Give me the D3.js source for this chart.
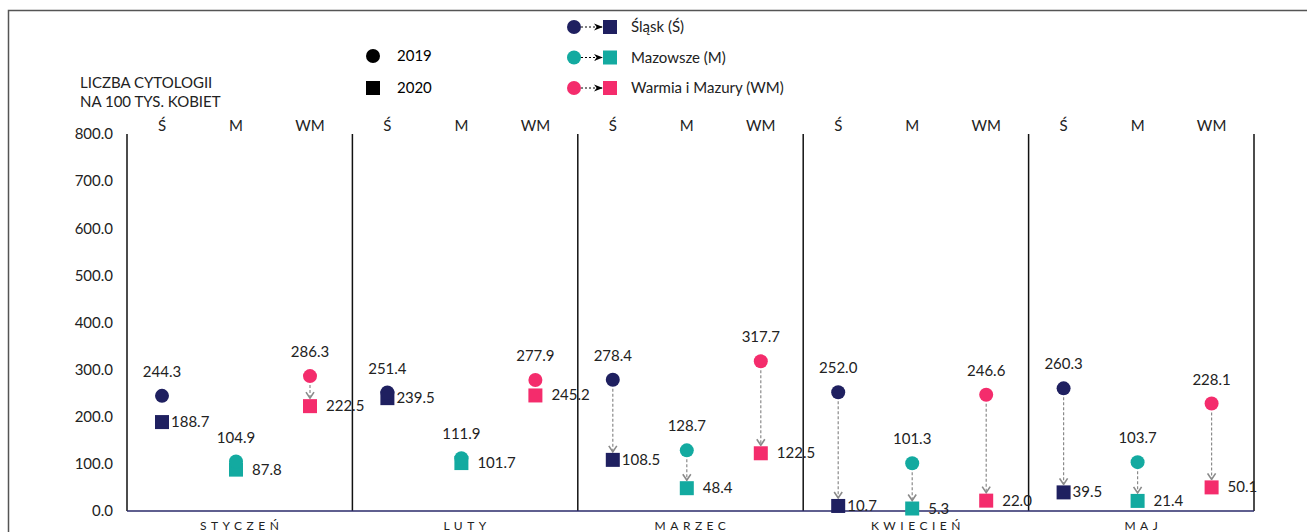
<!DOCTYPE html>
<html>
<head>
<meta charset="utf-8">
<script src="https://cdn.jsdelivr.net/npm/d3@7"></script>
<style>
  body { margin: 0; background: #fff; }
  svg { display: block; font-family: Lato, "Open Sans", sans-serif; }
</style>
</head>
<body>
<svg id="chart" width="1307" height="532"></svg>
<script>
// data
const months = ['STYCZEŃ', 'LUTY', 'MARZEC', 'KWIECIEŃ', 'MAJ'];
const regions = ['Ś', 'M', 'WM'];
const regionNames = ['Śląsk (Ś)', 'Mazowsze (M)', 'Warmia i Mazury (WM)'];
const values2019 = {
  'Ś':  [244.3, 251.4, 278.4, 252.0, 260.3],
  'M':  [104.9, 111.9, 128.7, 101.3, 103.7],
  'WM': [286.3, 277.9, 317.7, 246.6, 228.1]
};
const values2020 = {
  'Ś':  [188.7, 239.5, 108.5, 10.7, 39.5],
  'M':  [87.8, 101.7, 48.4, 5.3, 21.4],
  'WM': [222.5, 245.2, 122.5, 22.0, 50.1]
};
const yTicks = [0, 100, 200, 300, 400, 500, 600, 700, 800];

const colors = {'Ś': '#1f2060', 'M': '#13aaa0', 'WM': '#f42c6c'};
const FS = 15;

const svg = d3.select('#chart');
const plotTop = 134, plotBottom = 511, plotLeft = 127, plotRight = 1254;

const y = d3.scaleLinear().domain([0, 800]).range([plotBottom, plotTop]);
const xMonth = d3.scaleBand().domain(months).range([plotLeft, plotRight]);
const xRegion = d3.scalePoint().domain(regions).range([35, 183]);

// outer frame
svg.append('path')
  .attr('d', 'M8.5,532 V10.5 H1307')
  .attr('fill', 'none').attr('stroke', '#555').attr('stroke-width', 1.5);

// markers
const defs = svg.append('defs');
defs.append('marker')
  .attr('id', 'chev').attr('viewBox', '0 0 10 10')
  .attr('refX', 9).attr('refY', 5).attr('markerWidth', 10).attr('markerHeight', 10)
  .attr('markerUnits', 'userSpaceOnUse').attr('orient', 'auto')
  .append('path').attr('d', 'M3,1 L9,5 L3,9').attr('fill', 'none')
  .attr('stroke', '#8a8a8a').attr('stroke-width', 1.6);
defs.append('marker')
  .attr('id', 'tri').attr('viewBox', '0 0 10 10')
  .attr('refX', 9).attr('refY', 5).attr('markerWidth', 9).attr('markerHeight', 9)
  .attr('markerUnits', 'userSpaceOnUse').attr('orient', 'auto')
  .append('path').attr('d', 'M0,1 L10,5 L0,9 L3,5 Z').attr('fill', '#000');

// y axis labels
svg.append('g')
  .attr('transform', `translate(${plotLeft - 14},0)`)
  .call(d3.axisLeft(y).tickValues(yTicks).tickFormat(d3.format('.1f')).tickSize(0).tickPadding(0))
  .call(g => g.select('.domain').remove())
  .call(g => g.selectAll('text').attr('font-size', FS).attr('fill', '#222')
    .attr('font-family', 'Lato, sans-serif'));

// axis title
svg.append('text').attr('x', 80).attr('y', 88).attr('font-size', FS).attr('fill', '#222')
  .selectAll('tspan').data(['LICZBA CYTOLOGII', 'NA 100 TYS. KOBIET']).join('tspan')
  .attr('x', 80).attr('dy', (d, i) => i ? 19 : 0).text(d => d);

// vertical separators
const seps = months.map(m => xMonth(m)).concat([plotRight]);
svg.append('g').selectAll('line').data(seps).join('line')
  .attr('x1', d => d).attr('x2', d => d).attr('y1', plotTop).attr('y2', plotBottom)
  .attr('stroke', '#111').attr('stroke-width', 1.5);

// x axis line
svg.append('line').attr('x1', plotLeft).attr('x2', plotRight).attr('y1', plotBottom).attr('y2', plotBottom)
  .attr('stroke', '#2a2a6a').attr('stroke-width', 1.5);

// month labels
svg.append('g').selectAll('text').data(months).join('text')
  .attr('x', d => xMonth(d) + xMonth.bandwidth() / 2 + 2).attr('y', 530)
  .attr('text-anchor', 'middle').attr('font-size', 12).attr('letter-spacing', 4.5)
  .attr('fill', '#222').text(d => d);

// region headers
const headers = [];
months.forEach(m => regions.forEach(r => headers.push({m, r})));
svg.append('g').selectAll('text').data(headers).join('text')
  .attr('x', d => xMonth(d.m) + xRegion(d.r)).attr('y', 131)
  .attr('text-anchor', 'middle').attr('font-size', FS).attr('fill', '#222')
  .text(d => d.r);

// points
const points = [];
months.forEach((m, i) => regions.forEach(r => points.push({
  m, r, v19: values2019[r][i], v20: values2020[r][i]
})));

const R = 7, S = 14;
const g = svg.append('g');

// arrows between 2019 and 2020
points.forEach(d => {
  const cx = xMonth(d.m) + xRegion(d.r);
  const y1 = y(d.v19) + R + 2, y2 = y(d.v20) - S / 2 - 1;
  if (y2 - y1 > 12) {
    g.append('line').attr('x1', cx).attr('x2', cx).attr('y1', y1).attr('y2', y2)
      .attr('stroke', '#8a8a8a').attr('stroke-width', 1.2)
      .attr('stroke-dasharray', '3,2').attr('marker-end', 'url(#chev)');
  }
});

g.selectAll('rect.y20').data(points).join('rect').attr('class', 'y20')
  .attr('x', d => xMonth(d.m) + xRegion(d.r) - S / 2)
  .attr('y', d => y(d.v20) - S / 2)
  .attr('width', S).attr('height', S).attr('fill', d => colors[d.r]);

g.selectAll('circle.y19').data(points).join('circle').attr('class', 'y19')
  .attr('cx', d => xMonth(d.m) + xRegion(d.r))
  .attr('cy', d => y(d.v19)).attr('r', R).attr('fill', d => colors[d.r]);

// value labels
g.selectAll('text.l19').data(points).join('text').attr('class', 'l19')
  .attr('x', d => xMonth(d.m) + xRegion(d.r))
  .attr('y', d => y(d.v19) - 19)
  .attr('text-anchor', 'middle').attr('font-size', FS).attr('fill', '#222')
  .text(d => d3.format('.1f')(d.v19));

g.selectAll('text.l20').data(points).join('text').attr('class', 'l20')
  .attr('x', d => xMonth(d.m) + xRegion(d.r) + (d.r === 'Ś' ? 9 : 16))
  .attr('y', d => y(d.v20) + 5)
  .attr('font-size', FS).attr('fill', '#222')
  .text(d => d3.format('.1f')(d.v20));

// legend: years
const yearLeg = svg.append('g');
yearLeg.append('circle').attr('cx', 373).attr('cy', 56).attr('r', 7).attr('fill', '#000');
yearLeg.append('rect').attr('x', 366).attr('y', 81).attr('width', 14).attr('height', 14).attr('fill', '#000');
yearLeg.append('text').attr('x', 397).attr('y', 61).attr('font-size', FS).text('2019');
yearLeg.append('text').attr('x', 397).attr('y', 93).attr('font-size', FS).text('2020');

// legend: regions
const regLeg = svg.append('g').selectAll('g').data(regions).join('g')
  .attr('transform', (d, i) => `translate(0,${27 + i * 30.5})`);
regLeg.append('line').attr('x1', 581).attr('x2', 602).attr('y1', 0).attr('y2', 0)
  .attr('stroke', '#000').attr('stroke-width', 1).attr('stroke-dasharray', '2,2')
  .attr('marker-end', 'url(#tri)');
regLeg.append('circle').attr('cx', 574).attr('cy', 0).attr('r', 7).attr('fill', d => colors[d]);
regLeg.append('rect').attr('x', 603).attr('y', -7).attr('width', 14).attr('height', 14)
  .attr('fill', d => colors[d]);
regLeg.append('text').attr('x', 631).attr('y', 5).attr('font-size', FS).attr('fill', '#222')
  .text((d, i) => regionNames[i]);
</script>
</body>
</html>
